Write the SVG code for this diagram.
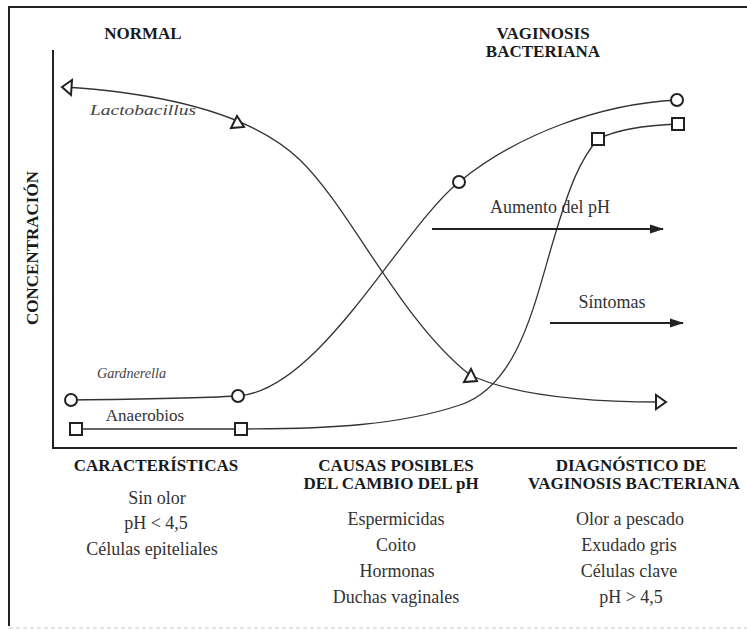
<svg xmlns="http://www.w3.org/2000/svg" width="747" height="630" viewBox="0 0 747 630">
<defs>
<style>
.h{font-family:"Liberation Serif","Times New Roman","DejaVu Serif",serif;font-weight:bold;font-size:17px;fill:#1a1a1a;text-anchor:middle}
.t{font-family:"Liberation Serif","Times New Roman","DejaVu Serif",serif;font-size:18px;fill:#333;text-anchor:middle}
.it{font-family:"Liberation Serif","Times New Roman","DejaVu Serif",serif;font-style:italic;font-size:15px;fill:#444}
.c{fill:none;stroke:#333;stroke-width:1.3}
.m{fill:#fff;stroke:#222;stroke-width:2}
.ax{fill:none;stroke:#222;stroke-width:2}
.ar{fill:none;stroke:#222;stroke-width:2.2}
</style>
<marker id="ah" viewBox="0 0 14 10" refX="13" refY="5" markerWidth="14" markerHeight="10" markerUnits="userSpaceOnUse" orient="auto">
<path d="M0,0.5 L14,5 L0,9.5 Z" fill="#222"/>
</marker>
</defs>
<rect width="747" height="630" fill="#fff"/>
<g id="frame">
<path d="M9,626 L9,7 L747,7" fill="none" stroke="#222" stroke-width="2"/>
<line x1="9" y1="628" x2="747" y2="628" stroke="#ccc" stroke-width="1" stroke-dasharray="4 3"/>
</g>
<g id="axes">
<path class="ax" d="M53,50 L53,448 L737,448"/>
<text class="h" transform="translate(38,248) rotate(-90)">CONCENTRACIÓN</text>
</g>
<g id="titles">
<text class="h" x="143" y="39">NORMAL</text>
<text class="h" x="543" y="39">VAGINOSIS</text>
<text class="h" x="543" y="57">BACTERIANA</text>
</g>
<g id="connectors">
<path id="lacto-curve" class="c" d="M64,87 C160,93 250,112 300,160 C350,208 400,320 470,375 C520,398 600,402 660,402"/>
<path id="gard-curve" class="c" d="M71,400 C150,399 200,398 238,396 C320,390 400,230 459,182 C518,134 600,104 677,100"/>
<path id="anaer-curve" class="c" d="M76,429 L241,429 C330,429 400,425 460,405 C520,385 535,300 555,235 C570,185 580,160 598,139 C620,128 650,125 678,124"/>
<line id="ph-arrow" class="ar" x1="432" y1="229" x2="663" y2="229" marker-end="url(#ah)"/>
<line id="sint-arrow" class="ar" x1="550" y1="323" x2="683" y2="323" marker-end="url(#ah)"/>
</g>
<g id="lactobacillus">
<polygon class="m" points="62,87 72,80 71,95"/>
<polygon class="m" points="237,116 231,128 244,127"/>
<polygon class="m" points="471,369 464,382 477,381"/>
<polygon class="m" points="666,402 656,395 656,409"/>
<text class="it" x="90" y="115" textLength="106" lengthAdjust="spacingAndGlyphs">Lactobacillus</text>
</g>
<g id="gardnerella">
<circle class="m" cx="71" cy="400" r="6"/>
<circle class="m" cx="238" cy="396" r="6"/>
<circle class="m" cx="459" cy="182" r="6"/>
<circle class="m" cx="677" cy="100" r="6"/>
<text class="it" x="97" y="378" textLength="69" lengthAdjust="spacingAndGlyphs">Gardnerella</text>
</g>
<g id="anaerobios">
<rect class="m" x="70" y="423" width="12" height="12"/>
<rect class="m" x="235" y="423" width="12" height="12"/>
<rect class="m" x="592" y="133" width="12" height="12"/>
<rect class="m" x="672" y="118" width="12" height="12"/>
<text class="t" x="145" y="421" style="font-size:17px">Anaerobios</text>
</g>
<g id="labels">
<text class="t" x="550" y="213">Aumento del pH</text>
<text class="t" x="612" y="308">Síntomas</text>
</g>
<g id="caracteristicas">
<text class="h" x="156" y="471">CARACTERÍSTICAS</text>
<text class="t" x="157" y="504">Sin olor</text>
<text class="t" x="156" y="529">pH &lt; 4,5</text>
<text class="t" x="152" y="555">Células epiteliales</text>
</g>
<g id="causas">
<text class="h" x="396" y="471">CAUSAS POSIBLES</text>
<text class="h" x="391" y="489">DEL CAMBIO DEL pH</text>
<text class="t" x="396" y="525">Espermicidas</text>
<text class="t" x="396" y="551">Coito</text>
<text class="t" x="397" y="577">Hormonas</text>
<text class="t" x="396" y="603">Duchas vaginales</text>
</g>
<g id="diagnostico">
<text class="h" x="631" y="471">DIAGNÓSTICO DE</text>
<text class="h" x="634" y="489">VAGINOSIS BACTERIANA</text>
<text class="t" x="630" y="525">Olor a pescado</text>
<text class="t" x="629" y="551">Exudado gris</text>
<text class="t" x="629" y="577">Células clave</text>
<text class="t" x="631" y="603">pH &gt; 4,5</text>
</g>
</svg>
